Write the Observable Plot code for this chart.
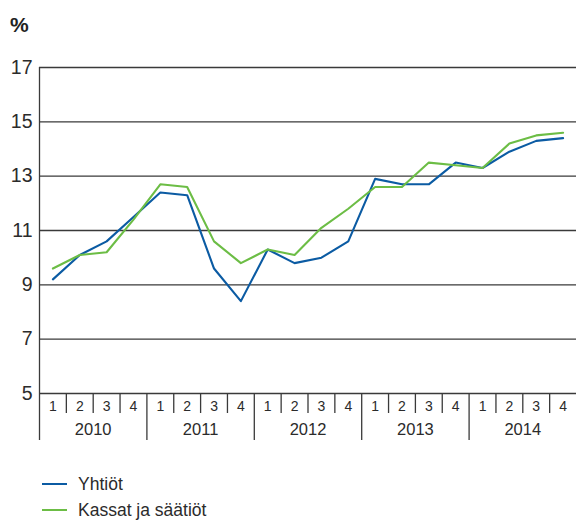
<!DOCTYPE html>
<html>
<head>
<meta charset="utf-8">
<script src="https://cdn.jsdelivr.net/npm/d3@7"></script>
<script src="https://cdn.jsdelivr.net/npm/@observablehq/plot@0.6"></script>
<style>
  body { margin: 0; background: #fff; font-family: "Liberation Sans", Arial, sans-serif; color: #2b2b2b; }
  #wrap { position: relative; width: 576px; height: 520px; }
  #unit { position: absolute; left: 10px; top: 13px; font-size: 21px; font-weight: bold; color: #222; }
  #chart { position: absolute; left: 0; top: 0; }
  #legend { position: absolute; left: 42px; top: 471px; font-size: 17.5px; line-height: 26px; }
  .item { display: flex; align-items: center; }
  .sw { width: 25px; height: 2.5px; margin-right: 11px; }
</style>
</head>
<body>
<div id="wrap">
  <div id="chart"></div>
  <div id="unit">%</div>
  <div id="legend"></div>
</div>
<script>
const years = ["2010", "2011", "2012", "2013", "2014"];
const quarters = ["1", "2", "3", "4"];
const yTicks = [5, 7, 9, 11, 13, 15, 17];
const seriesNames = ["Yhtiöt", "Kassat ja säätiöt"];
const seriesColors = ["#0b5ba3", "#6cbd45"];
const yhtiot = [9.2, 10.1, 10.6, 11.5, 12.4, 12.3, 9.6, 8.4, 10.3, 9.8, 10.0, 10.6, 12.9, 12.7, 12.7, 13.5, 13.3, 13.9, 14.3, 14.4];
const kassat = [9.6, 10.1, 10.2, 11.4, 12.7, 12.6, 10.6, 9.8, 10.3, 10.1, 11.1, 11.8, 12.6, 12.6, 13.5, 13.4, 13.3, 14.2, 14.5, 14.6];

const nQ = years.length * quarters.length;
const data = [];
[yhtiot, kassat].forEach((vals, s) => vals.forEach((v, i) => data.push({series: seriesNames[s], i: i + 0.5, value: v})));

const quarterEdges = d3.range(nQ + 1).filter(i => i % quarters.length !== 0);
const yearEdges = d3.range(0, nQ, quarters.length);
const quarterCenters = d3.range(nQ).map(i => i + 0.5);
const yearCenters = years.map((y, k) => k * quarters.length + quarters.length / 2);

const chart = Plot.plot({
  width: 576,
  height: 450,
  marginTop: 67,
  marginBottom: 57,
  marginLeft: 39,
  marginRight: 0,
  style: {fontFamily: "Liberation Sans, Arial, sans-serif", color: "#2b2b2b", background: "transparent"},
  x: {domain: [0, nQ]},
  y: {domain: [5, 17]},
  color: {domain: seriesNames, range: seriesColors},
  marks: [
    Plot.ruleY(yTicks, {stroke: "#3a3a3a", strokeWidth: 1.3}),
    Plot.ruleX([0], {stroke: "#3a3a3a", strokeWidth: 1.3}),
    Plot.axisY({ticks: yTicks, tickSize: 0, tickPadding: 7, fontSize: 19.5, label: null}),
    Plot.axisX({ticks: quarterEdges, tickSize: 20, tickFormat: () => "", label: null, stroke: "#3a3a3a", strokeWidth: 1.3}),
    Plot.axisX({ticks: yearEdges, tickSize: 47, tickFormat: () => "", label: null, stroke: "#3a3a3a", strokeWidth: 1.3}),
    Plot.axisX({ticks: quarterCenters, tickSize: 0, tickPadding: 7.5, fontSize: 14, label: null,
      tickFormat: v => quarters[Math.floor(v) % quarters.length]}),
    Plot.axisX({ticks: yearCenters, tickSize: 0, tickPadding: 29.5, fontSize: 16.5, label: null,
      tickFormat: v => years[Math.floor(v / quarters.length)]}),
    Plot.line(data, {x: "i", y: "value", z: "series", stroke: "series", strokeWidth: 2.1})
  ]
});
document.getElementById("chart").appendChild(chart);

const legend = document.getElementById("legend");
seriesNames.forEach((n, k) => {
  const d = document.createElement("div");
  d.className = "item";
  d.innerHTML = `<span class="sw" style="background:${seriesColors[k]}"></span><span>${n}</span>`;
  legend.appendChild(d);
});
</script>
</body>
</html>
